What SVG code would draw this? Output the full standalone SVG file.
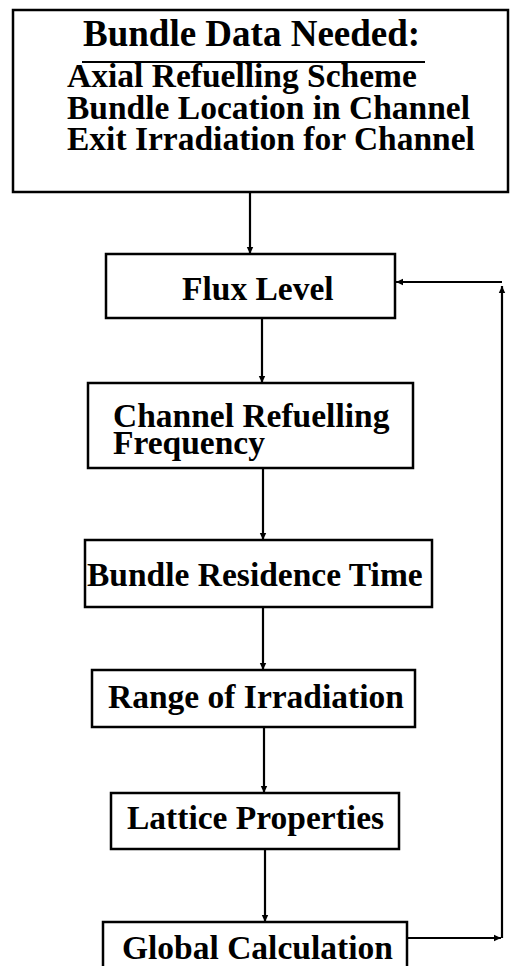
<svg xmlns="http://www.w3.org/2000/svg" width="510" height="966" viewBox="0 0 510 966">
<style>
.box{fill:#fff;stroke:#000;stroke-width:2.5}
.t{font-family:"Liberation Serif","Times New Roman",serif;font-weight:bold;font-size:33.5px;fill:#000}
.title{font-size:37px}
.c{fill:none;stroke:#000;stroke-width:2.2}
</style>
<defs>
<marker id="ah" markerWidth="8" markerHeight="8" refX="7" refY="4" orient="auto" markerUnits="userSpaceOnUse">
<path d="M0,0.8 L7,4 L0,7.2 Z" fill="#000"/>
</marker>
</defs>
<rect width="510" height="966" fill="#fff"/>
<g id="connectors">
<line class="c" x1="250" y1="192" x2="250" y2="254" marker-end="url(#ah)"/>
<line class="c" x1="262" y1="318" x2="262" y2="383" marker-end="url(#ah)"/>
<line class="c" x1="263" y1="468" x2="263" y2="540" marker-end="url(#ah)"/>
<line class="c" x1="263" y1="607" x2="263" y2="670" marker-end="url(#ah)"/>
<line class="c" x1="264" y1="727" x2="264" y2="793" marker-end="url(#ah)"/>
<line class="c" x1="265" y1="849" x2="265" y2="922" marker-end="url(#ah)"/>
<line class="c" x1="407" y1="938" x2="501" y2="938" marker-end="url(#ah)"/>
<line class="c" x1="502" y1="938" x2="502" y2="286" marker-end="url(#ah)"/>
<line class="c" x1="502" y1="282" x2="396" y2="282" marker-end="url(#ah)"/>
</g>
<g id="bundle-data">
<rect class="box" x="13" y="10" width="495" height="182"/>
<text class="t title" x="83" y="46">Bundle Data Needed:</text>
<line x1="82" y1="62" x2="425" y2="62" stroke="#000" stroke-width="2"/>
<text class="t" x="67" y="87">Axial Refuelling Scheme</text>
<text class="t" x="67" y="119">Bundle Location in Channel</text>
<text class="t" x="67" y="150">Exit Irradiation for Channel</text>
</g>
<g id="flux-level">
<rect class="box" x="106" y="254" width="289" height="64"/>
<text class="t" x="182" y="300">Flux Level</text>
</g>
<g id="channel-refuelling">
<rect class="box" x="88" y="383" width="325" height="85"/>
<text class="t" x="113" y="427">Channel Refuelling</text>
<text class="t" x="113" y="454">Frequency</text>
</g>
<g id="bundle-residence">
<rect class="box" x="85" y="540" width="347" height="67"/>
<text class="t" x="87" y="586">Bundle Residence Time</text>
</g>
<g id="range-irradiation">
<rect class="box" x="92" y="670" width="323" height="57"/>
<text class="t" x="108" y="708">Range of Irradiation</text>
</g>
<g id="lattice-properties">
<rect class="box" x="111" y="793" width="288" height="56"/>
<text class="t" x="127" y="829">Lattice Properties</text>
</g>
<g id="global-calculation">
<rect class="box" x="103" y="922" width="304" height="60"/>
<text class="t" x="122" y="959">Global Calculation</text>
</g>
</svg>
